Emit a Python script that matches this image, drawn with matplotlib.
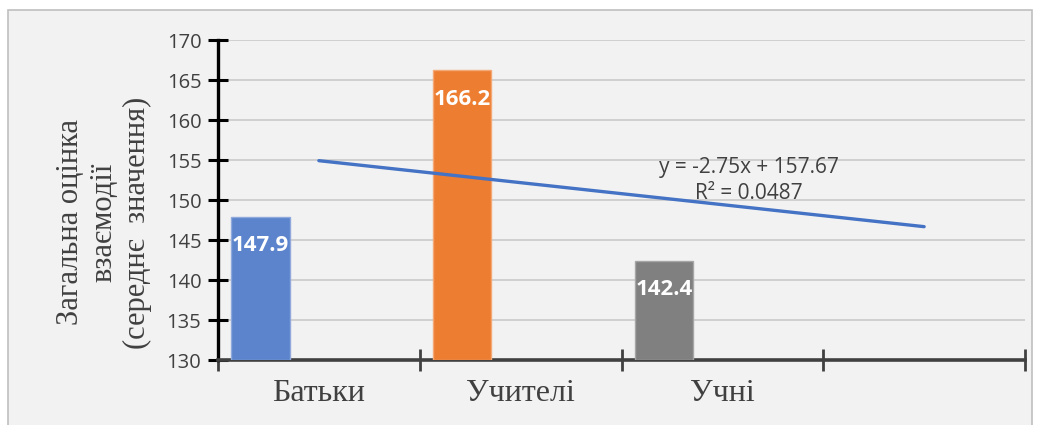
import numpy as np
import matplotlib.pyplot as plt
from matplotlib.patches import Rectangle

# Дані
categories = ['Батьки', 'Учителі', 'Учні', '']
values = [147.9, 166.2, 142.4]
bar_colors = ['#5B84CC', '#ED7D31', '#808080']
y_ticks = [130, 135, 140, 145, 150, 155, 160, 165, 170]

fig = plt.figure(figsize=(10.42, 4.25), dpi=100)
fig.patch.set_facecolor('white')
# рамка області діаграми
fig.patches.append(Rectangle((8 / 1042, -0.05), 1024 / 1042, 1.05 - 10 / 425,
                             transform=fig.transFigure, facecolor='#F2F2F2',
                             edgecolor='#BFBFBF', linewidth=1.2, zorder=-10))

ax = fig.add_axes([218 / 1042, 1 - 360 / 425, 807 / 1042, 320 / 425])
ax.patch.set_visible(False)

x = np.arange(1, len(values) + 1)
w = 0.29
ax.bar(x - 0.29, [v - 130 for v in values], bottom=130, width=w,
       color=bar_colors, edgecolor=['#8FA9DC', '#F4A876', '#A6A6A6'],
       linewidth=1, zorder=3)

for xi, v in zip(x, values):
    ax.annotate(f'{v:.1f}', (xi - 0.29, v), xytext=(0, -21), textcoords='offset points',
                ha='center', va='center', color='white', fontsize=16,
                fontweight='bold', family='Open Sans', zorder=5)

# Лінійний тренд (прогноз вперед на 1 період)
k, b = np.polyfit(x, values, 1)
pred = k * x + b
r2 = 1 - np.sum((np.array(values) - pred) ** 2) / np.sum((np.array(values) - np.mean(values)) ** 2)
xt = np.array([1, 4])
ax.plot(xt, k * xt + b, color='#4472C4', linewidth=2.4, zorder=4, solid_capstyle='round')
ax.text(3.13, 152.4, f'y = {k:.2f}x + {b:.2f}\nR² = {r2:.4f}', ha='center', va='center',
        fontsize=15, color='#404040', family='Open Sans', linespacing=1.3, zorder=6)

ax.set_xlim(0.5, 4.5)
ax.set_ylim(130, 170)
ax.set_yticks(y_ticks)
ax.set_yticklabels([str(t) for t in y_ticks], family='Open Sans', fontsize=14.5, color='#404040')
ax.yaxis.grid(True, color='#D0D0D0', linewidth=1.4, zorder=0)

ax.set_xticks([0.5, 1.5, 2.5, 3.5, 4.5])
ax.set_xticklabels([])
ax.set_xticks([1, 2, 3, 4], minor=True)
ax.set_xticklabels(categories, minor=True, family='Liberation Serif', fontsize=23, color='#404040')
ax.tick_params(axis='x', which='minor', length=0, pad=14)
ax.tick_params(axis='x', which='major', direction='inout', length=16, width=2, color='#404040')
ax.tick_params(axis='y', direction='inout', length=14, width=2.2, color='black', pad=5)

for s in ['top', 'right']:
    ax.spines[s].set_visible(False)
ax.spines['left'].set_color('black')
ax.spines['left'].set_linewidth(2.4)
ax.spines['bottom'].set_color('#404040')
ax.spines['bottom'].set_linewidth(2.6)

ax.set_ylabel('Загальна оцінка\nвзаємодії\n(середнє  значення)', family='Liberation Serif',
              fontsize=22, color='#404040', linespacing=1.2)
ax.yaxis.set_label_coords(-0.082, 0.43)

fig.savefig('out.png', dpi=100)
